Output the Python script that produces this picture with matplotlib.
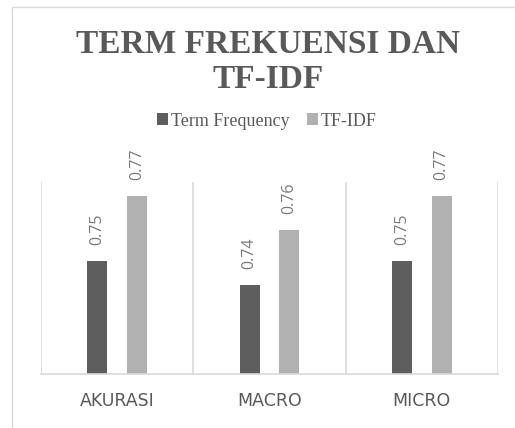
import matplotlib
matplotlib.use("Agg")
import matplotlib.pyplot as plt
from matplotlib.patches import Patch, Rectangle
import numpy as np

categories = ["AKURASI", "MACRO", "MICRO"]
series_names = ["Term Frequency", "TF-IDF"]
term_frequency = [0.747, 0.737, 0.747]
tf_idf = [0.774, 0.760, 0.774]
title = "TERM FREKUENSI DAN\nTF-IDF"

dark = "#5e5e5e"
light = "#b1b1b1"
grid_c = "#d9d9d9"
text_c = "#595959"
label_c = "#7a7a7a"

fig = plt.figure(figsize=(5.15, 4.28), dpi=100)
fig.patch.set_facecolor("white")

# outer chart border (only left and top visible in the crop)
fig.patches.append(Rectangle((12 / 515, -0.1), 1.2, 1 - 7 / 428 + 0.1,
                             transform=fig.transFigure, fill=False,
                             edgecolor=grid_c, linewidth=1.0))

ax = fig.add_axes([41 / 515, 54 / 428, 457 / 515, 192 / 428])
x = np.arange(len(categories))
w = 0.13
off = 0.13
b1 = ax.bar(x - off, term_frequency, w, color=dark, label=series_names[0])
b2 = ax.bar(x + off, tf_idf, w, color=light, label=series_names[1])

ax.set_xlim(-0.5, len(categories) - 0.5)
ax.set_ylim(0.70, 0.78)

for s in ax.spines.values():
    s.set_visible(False)
ax.spines["bottom"].set_visible(True)
ax.spines["bottom"].set_color(grid_c)
ax.spines["bottom"].set_linewidth(1.2)
for xv in np.arange(-0.5, len(categories), 1.0):
    ax.axvline(xv, color=grid_c, linewidth=1.2, zorder=0)

ax.set_yticks([])
ax.set_xticks(x)
ax.set_xticklabels(categories, fontfamily="DejaVu Sans", fontsize=12.5, color=text_c)
ax.tick_params(axis="x", length=0, pad=13)

for bars in (b1, b2):
    for r in bars:
        v = r.get_height()
        ax.annotate(f"{v:.2f}", (r.get_x() + r.get_width() / 2, v),
                    xytext=(0, 11.5), textcoords="offset points",
                    rotation=90, ha="center", va="bottom",
                    fontfamily="Open Sans", fontsize=11.5, color=label_c,
                    annotation_clip=False)

fig.text(268 / 515, 1 - 62 / 428, title, ha="center", va="center",
         multialignment="center", fontfamily="Liberation Serif",
         fontweight="bold", fontsize=24, color=text_c, linespacing=1.2)

handles = [Patch(facecolor=dark, edgecolor="none"),
           Patch(facecolor=light, edgecolor="none")]
fig.legend(handles, series_names, loc="center", bbox_to_anchor=(267 / 515, 1 - 121 / 428),
           ncol=2, frameon=False, handlelength=0.6, handleheight=0.6,
           handletextpad=0.15, columnspacing=1.0,
           prop={"family": "Liberation Serif", "size": 13}, labelcolor=text_c)

fig.savefig("out.png", dpi=100, facecolor="white")
